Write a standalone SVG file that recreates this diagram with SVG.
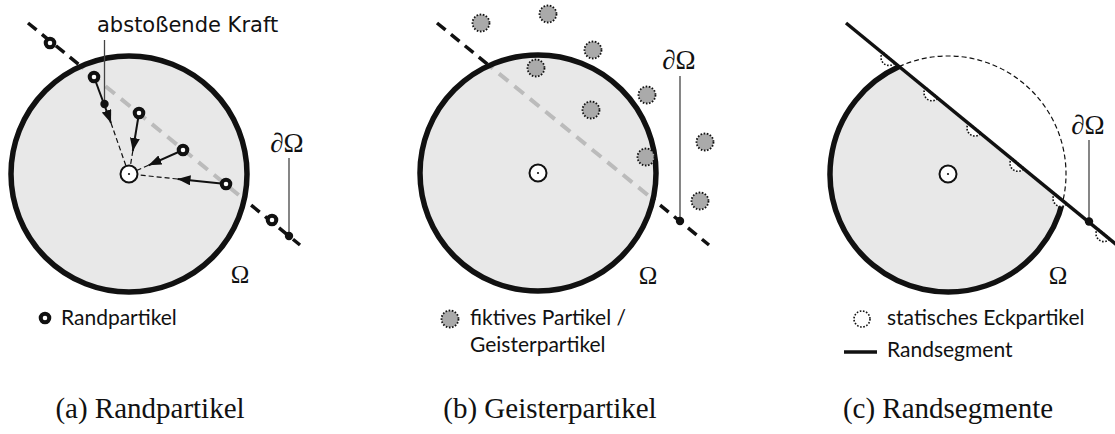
<svg xmlns="http://www.w3.org/2000/svg" width="1115" height="434" viewBox="0 0 1115 434">
<style>
.dom{fill:#e8e8e8;stroke:none}
.rim{fill:none;stroke:#111;stroke-width:5.5}
.bdash{fill:none;stroke:#111;stroke-width:3.5;stroke-dasharray:11 7}
.gdash{fill:none;stroke:#bbb;stroke-width:4;stroke-dasharray:12 8}
.ring{fill:#fff;stroke:#111;stroke-width:4}
.ghost{fill:#aaa;stroke:#111;stroke-width:1.8;stroke-dasharray:1.6 1.6}
.stat{fill:#fff;stroke:#111;stroke-width:1.6;stroke-dasharray:1.6 1.6}
.ctr{fill:#fff;stroke:#111;stroke-width:2}
.force{fill:none;stroke:#111;stroke-width:2}
.thin{fill:none;stroke:#111;stroke-width:1.2;stroke-dasharray:5 3}
.lead{fill:none;stroke:#444;stroke-width:1.3}
.math{font-family:"Liberation Serif","DejaVu Serif",serif;fill:#111}
.lg{font-family:Lato,"Noto Sans",sans-serif;font-size:21px;fill:#111}
.cap{font-family:"Liberation Serif",serif;font-size:29px;fill:#111;text-anchor:middle}
.lbl{font-family:"DejaVu Sans",sans-serif;font-size:21px;fill:#111}
</style>
<defs>
<marker id="ah" markerUnits="userSpaceOnUse" markerWidth="13" markerHeight="10" refX="13" refY="5" orient="auto">
<path d="M0,0 L13,5 L0,10 Z" fill="#111"/>
</marker>
<clipPath id="ca"><circle cx="129" cy="174" r="118"/></clipPath>
<clipPath id="cb"><circle cx="538" cy="173" r="118"/></clipPath>
</defs>

<!-- Panel (a) -->
<g id="panel-a">
<line class="bdash" x1="28" y1="23" x2="300" y2="245"/>
<circle class="dom" cx="129" cy="174" r="118"/>
<line class="gdash" x1="28" y1="23" x2="300" y2="245" clip-path="url(#ca)"/>
<circle class="rim" cx="129" cy="174" r="118"/>
</g>
<g id="connectors-a">
<line class="force" x1="94" y1="77" x2="111" y2="123" marker-end="url(#ah)"/>
<line class="thin" x1="111" y1="123" x2="126" y2="166"/>
<line class="force" x1="139" y1="113" x2="132.8" y2="151" marker-end="url(#ah)"/>
<line class="thin" x1="132.8" y1="151" x2="130.5" y2="165"/>
<line class="force" x1="183" y1="150" x2="148.5" y2="165.3" marker-end="url(#ah)"/>
<line class="thin" x1="148.5" y1="165.3" x2="137.2" y2="170.3"/>
<line class="force" x1="226" y1="184" x2="177.5" y2="179" marker-end="url(#ah)"/>
<line class="thin" x1="177.5" y1="179" x2="138" y2="174.9"/>
<line class="lead" x1="104.5" y1="40" x2="104.5" y2="104"/>
<line class="lead" x1="289" y1="158" x2="289" y2="236"/>
</g>
<g id="particles-a">
<circle class="ring" cx="50" cy="43" r="4.3"/>
<circle class="ring" cx="94" cy="77" r="4.3"/>
<circle class="ring" cx="139" cy="113" r="4.3"/>
<circle class="ring" cx="183" cy="150" r="4.3"/>
<circle class="ring" cx="226" cy="184" r="4.3"/>
<circle class="ring" cx="272" cy="220" r="4.3"/>
<circle cx="104.5" cy="104" r="4.2" fill="#111"/>
<circle cx="289" cy="236" r="4.2" fill="#111"/>
</g>
<g id="center-a">
<circle class="ctr" cx="129" cy="174" r="8.5"/>
<circle cx="129" cy="174" r="1.1" fill="#111"/>
</g>
<text class="lbl" x="97" y="32">abstoßende Kraft</text>
<text class="math" x="287" y="152" font-size="27" text-anchor="middle">∂Ω</text>
<text class="math" x="240" y="283" font-size="25" text-anchor="middle">Ω</text>
<g id="legend-a">
<circle class="ring" cx="45" cy="318" r="4.3"/>
<text class="lg" x="61" y="325">Randpartikel</text>
</g>
<text class="cap" x="150" y="418">(a) Randpartikel</text>

<!-- Panel (b) -->
<g id="panel-b">
<line class="bdash" x1="437" y1="23" x2="709" y2="245"/>
<circle class="dom" cx="538" cy="173" r="118"/>
<line class="gdash" x1="437" y1="23" x2="709" y2="245" clip-path="url(#cb)"/>
<circle class="rim" cx="538" cy="173" r="118"/>
</g>
<g id="connectors-b">
<line class="lead" x1="680" y1="76" x2="680" y2="221"/>
</g>
<g id="ghosts-b">
<circle class="ghost" cx="481" cy="23" r="8.5"/>
<circle class="ghost" cx="548" cy="14" r="8.5"/>
<circle class="ghost" cx="593" cy="50" r="8.5"/>
<circle class="ghost" cx="536" cy="68" r="8.5"/>
<circle class="ghost" cx="647" cy="95" r="8.5"/>
<circle class="ghost" cx="591" cy="110" r="8.5"/>
<circle class="ghost" cx="705" cy="142" r="8.5"/>
<circle class="ghost" cx="646" cy="157" r="8.5"/>
<circle class="ghost" cx="700" cy="201" r="8.5"/>
<circle cx="680" cy="221" r="4.2" fill="#111"/>
</g>
<g id="center-b">
<circle class="ctr" cx="538" cy="173" r="8.5"/>
<circle cx="538" cy="173" r="1.1" fill="#111"/>
</g>
<text class="math" x="679" y="69" font-size="27" text-anchor="middle">∂Ω</text>
<text class="math" x="648" y="284" font-size="25" text-anchor="middle">Ω</text>
<g id="legend-b">
<circle class="ghost" cx="450" cy="319" r="8.5"/>
<text class="lg" x="470" y="325">fiktives Partikel /</text>
<text class="lg" x="470" y="352">Geisterpartikel</text>
</g>
<text class="cap" x="550" y="418">(b) Geisterpartikel</text>

<!-- Panel (c) -->
<g id="panel-c">
<path class="dom" d="M899.1 66.6 A118 118 0 1 0 1062.9 200.9 Z"/>
<path class="thin" d="M899.1 66.6 A118 118 0 0 1 1062.9 200.9" stroke-dasharray="7 4" stroke-width="1.5"/>
<path class="rim" d="M899.1 66.6 A118 118 0 1 0 1062.9 200.9"/>
</g>
<g id="corners-c">
<path class="stat" transform="translate(889 57.4) rotate(39.4)" d="M-8 0 A8 8 0 0 0 8 0 Z"/>
<path class="stat" transform="translate(932 92.7) rotate(39.4)" d="M-8 0 A8 8 0 0 0 8 0 Z"/>
<path class="stat" transform="translate(975 128) rotate(39.4)" d="M-8 0 A8 8 0 0 0 8 0 Z"/>
<path class="stat" transform="translate(1018 163.3) rotate(39.4)" d="M-8 0 A8 8 0 0 0 8 0 Z"/>
<path class="stat" transform="translate(1061 198.5) rotate(39.4)" d="M-8 0 A8 8 0 0 0 8 0 Z"/>
<path class="stat" transform="translate(1104 233.6) rotate(39.4)" d="M-8 0 A8 8 0 0 0 8 0 Z"/>
</g>
<g id="connectors-c">
<line x1="846" y1="23" x2="1120" y2="247.7" stroke="#111" stroke-width="3.5"/>
<line class="lead" x1="1089" y1="140" x2="1089" y2="221"/>
<circle cx="1089" cy="221.5" r="4.2" fill="#111"/>
</g>
<g id="center-c">
<circle class="ctr" cx="948" cy="174" r="8.5"/>
<circle cx="948" cy="174" r="1.1" fill="#111"/>
</g>
<text class="math" x="1088" y="134" font-size="27" text-anchor="middle">∂Ω</text>
<text class="math" x="1058" y="284" font-size="25" text-anchor="middle">Ω</text>
<g id="legend-c">
<circle class="stat" cx="862" cy="319" r="8"/>
<text class="lg" x="887" y="325">statisches Eckpartikel</text>
<line x1="844" y1="352" x2="877" y2="352" stroke="#111" stroke-width="3.5"/>
<text class="lg" x="887" y="357">Randsegment</text>
</g>
<text class="cap" x="948" y="418">(c) Randsegmente</text>
</svg>
